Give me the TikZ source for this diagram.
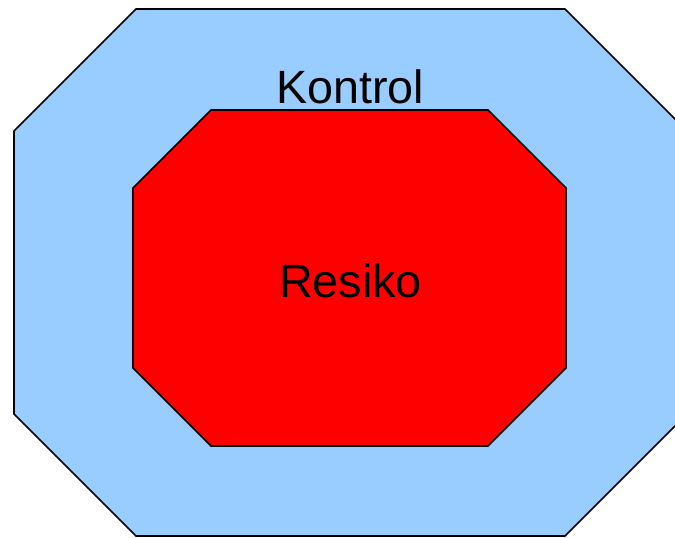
\documentclass[tikz,border=0pt]{standalone}
\usepackage{fontspec}
\setmainfont{Liberation Sans}

\definecolor{lightblue}{HTML}{99CCFF}

\begin{document}
\begin{tikzpicture}[x=0.75pt,y=-0.75pt,
  zone/.style={draw=black,line width=1.2pt,line join=miter},
  zonelabel/.style={anchor=base,inner sep=0pt,font=\fontsize{35}{42}\selectfont}]
%\draw[help lines,step=50] (0,0) grid (675,537);
\useasboundingbox (0,0) rectangle (675,537);
\clip (0,0) rectangle (675,537);

% outer octagon
\draw[zone,fill=lightblue] (136,9) -- (565,9) -- (688,132) -- (688,413)
  -- (565,536) -- (136,536) -- (14,414) -- (14,131) -- cycle;

% inner octagon
\draw[zone,fill=red] (211,110) -- (488,110) -- (566,188) -- (566,368)
  -- (488,446) -- (211,446) -- (133,368) -- (133,188) -- cycle;

\node[zonelabel] (kontrol) at (350,103.5) {Kontrol};
\node[zonelabel] (resiko) at (350.5,297) {Resiko};
\end{tikzpicture}
\end{document}
